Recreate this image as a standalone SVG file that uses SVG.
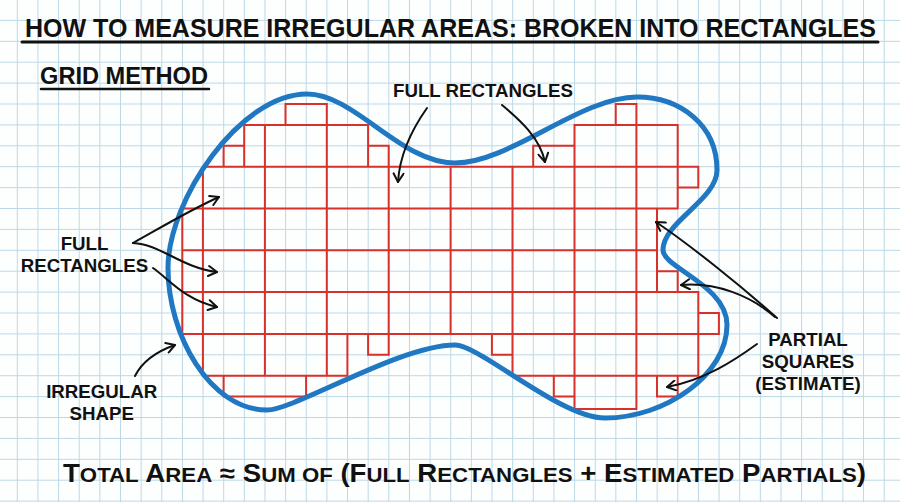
<svg xmlns="http://www.w3.org/2000/svg" width="900" height="502" viewBox="0 0 900 502">
  <style>
    .t { font-family: "Liberation Sans", Arial, sans-serif; font-weight: bold; fill: #111; }
    .lbl { font-size: 18.7px; text-anchor: middle; }
    .red { fill: none; stroke: #d8312b; stroke-width: 2; stroke-linecap: square; }
    .blue { fill: none; stroke: #1f78c1; stroke-width: 5; }
    .arr { fill: none; stroke: #111; stroke-width: 2; stroke-linecap: round; marker-end: url(#ah); }
    .ul { stroke: #111; stroke-linecap: round; }
  </style>
  <defs>
    <pattern id="g" patternUnits="userSpaceOnUse" x="16.8" y="-1" width="20.64" height="20.9">
      <path d="M0.5,0 V20.9 M0,0.5 H20.64" stroke="#bcd8e6" stroke-width="1" fill="none"/>
    </pattern>
    <marker id="ah" viewBox="0 0 12 12" refX="10" refY="6" markerWidth="12" markerHeight="12" orient="auto" markerUnits="userSpaceOnUse">
      <path d="M1.5,1 L10,6 L1.5,11" fill="none" stroke="#111" stroke-width="2" stroke-linecap="round" stroke-linejoin="round"/>
    </marker>
  </defs>

  <rect x="0" y="0" width="900" height="502" fill="#fdfefe"/>
  <rect x="0" y="0" width="900" height="502" fill="url(#g)"/>

  <g id="title">
    <text class="t" x="25" y="37" font-size="25" textLength="851" lengthAdjust="spacingAndGlyphs">HOW TO MEASURE IRREGULAR AREAS: BROKEN INTO RECTANGLES</text>
    <line class="ul" x1="22" y1="42" x2="878" y2="42" stroke-width="3"/>
  </g>

  <g id="grid-method">
    <text class="t" x="40" y="84" font-size="23" textLength="168" lengthAdjust="spacingAndGlyphs">GRID METHOD</text>
    <line class="ul" x1="41" y1="89" x2="209" y2="89" stroke-width="2.5"/>
  </g>

  <g id="rectangles">
    <path class="red" d="
      M285.5,104 H326.8 M615.7,104 H636.4
      M244.2,124.9 H368.1 M574.5,124.9 H677.7
      M223.6,145.8 H244.2 M368.1,145.8 H388.7 M533.2,145.8 H574.5
      M202.9,166.7 H698.3
      M677.7,187.6 H698.3
      M182.3,208.5 H677.7
      M182.3,250.3 H657
      M657,271.2 H677.7
      M182.3,292.1 H698.3
      M698.3,313 H718.9
      M182.3,333.9 H718.9
      M368.1,354.8 H388.7 M491.9,354.8 H512.5
      M202.9,375.7 H347.4 M512.5,375.7 H698.3
      M223.6,396.6 H306.1 M553.8,396.6 H574.5 M657,396.6 H677.7
      M574.5,409 H636.4
      M182.3,208.5 V333.9
      M202.9,166.7 V375.7
      M223.6,145.8 V166.7 M223.6,375.7 V396.6
      M244.2,124.9 V166.7
      M264.9,124.9 V375.7
      M285.5,104 V124.9
      M306.1,375.7 V396.6
      M326.8,104 V375.7
      M347.4,333.9 V375.7
      M368.1,124.9 V166.7 M368.1,333.9 V354.8
      M388.7,145.8 V354.8
      M450.6,166.7 V333.9
      M491.9,333.9 V354.8
      M512.5,166.7 V375.7
      M533.2,145.8 V166.7
      M553.8,375.7 V396.6
      M574.5,124.9 V409
      M615.7,104 V124.9
      M636.4,104 V409
      M657,208.5 V292.1 M657,375.7 V396.6
      M677.7,124.9 V208.5 M677.7,271.2 V292.1 M677.7,375.7 V396.6
      M698.3,166.7 V187.6 M698.3,292.1 V375.7
      M718.9,313 V333.9"/>
  </g>

  <g id="irregular-shape">
    <path class="blue" d="M168,268 C168,200 240,94 307,94 C355,94 400,163 455,163 C510,163 580,97 637,97 C680,97 717,125 717,170 C717,200 663,222 663,250 C663,268 727,285 727,325 C727,375 665,418 605,418 C560,418 480,345 455,345 C400,345 295,410 267,410 C210,410 168,335 168,268 Z"/>
  </g>

  <g id="label-full-top">
    <text class="t lbl" x="483" y="96.7">FULL RECTANGLES</text>
  </g>
  <g id="label-full-left">
    <text class="t lbl" x="84.5" y="250">FULL</text>
    <text class="t lbl" x="84.5" y="272">RECTANGLES</text>
  </g>
  <g id="label-irregular">
    <text class="t lbl" x="101.7" y="398">IRREGULAR</text>
    <text class="t lbl" x="101.7" y="420">SHAPE</text>
  </g>
  <g id="label-partial">
    <text class="t lbl" x="808" y="346" font-size="18.5">PARTIAL</text>
    <text class="t lbl" x="808" y="368" font-size="18.5">SQUARES</text>
    <text class="t lbl" x="808" y="390" font-size="18.5">(ESTIMATE)</text>
  </g>

  <g id="formula">
    <text class="t" x="63" y="482" font-size="25.5" textLength="803" lengthAdjust="spacingAndGlyphs">T<tspan font-size="20.5">OTAL</tspan> A<tspan font-size="20.5">REA</tspan> ≈ S<tspan font-size="20.5">UM OF</tspan> (F<tspan font-size="20.5">ULL</tspan> R<tspan font-size="20.5">ECTANGLES</tspan> + E<tspan font-size="20.5">STIMATED</tspan> P<tspan font-size="20.5">ARTIALS</tspan>)</text>
  </g>

  <g id="connectors">
    <path class="arr" d="M427,108 C415,125 400,150 398,182"/>
    <path class="arr" d="M502,105 C520,120 540,138 545,162"/>
    <path class="arr" d="M133,243 C160,228 190,210 219,197"/>
    <path class="arr" d="M133,243 C160,244 182,268 217,272"/>
    <path class="arr" d="M153,268 C170,280 185,300 217,307"/>
    <path class="arr" d="M135,376 C142,362 155,352 175,345"/>
    <path class="arr" d="M777,318 C740,285 690,245 656,222"/>
    <path class="arr" d="M775,317 C750,295 715,282 681,285"/>
    <path class="arr" d="M757,344 C735,360 705,380 667,387"/>
  </g>
</svg>
